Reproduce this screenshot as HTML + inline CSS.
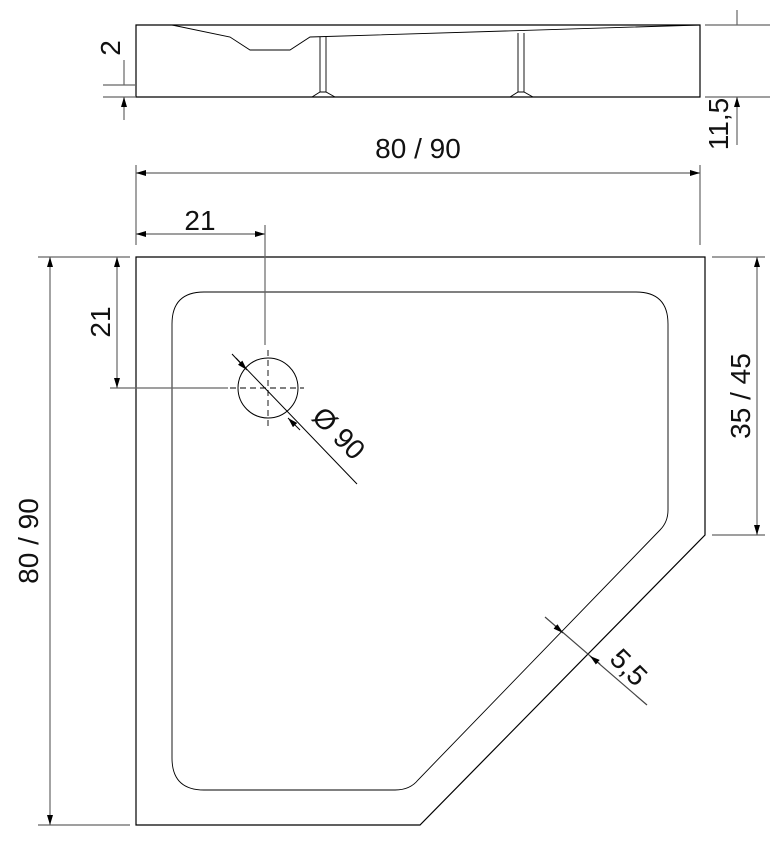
<!DOCTYPE html>
<html><head><style>body{margin:0;background:#fff}svg{display:block}text{font-family:"Liberation Sans",sans-serif;fill:#111}</style></head>
<body>
<svg width="780" height="848" viewBox="0 0 780 848">
<defs><marker id="a" markerWidth="10" markerHeight="6" refX="10" refY="3" orient="auto-start-reverse" markerUnits="userSpaceOnUse"><path d="M0,0 L10,3 L0,6z" fill="#000"/></marker></defs>
<g fill="none" stroke="#000" stroke-width="1.2">
<!-- side view -->
<path d="M136,25 H700 V97 H136 Z"/>
<path d="M172,25 L230,37 L250,50 L290,50 L310,37 L700,25" stroke-width="0.9"/>
<path d="M320,37 V92 M326,37 V92 M518,33 V92 M524,33 V92" stroke-width="0.9"/>
<path d="M312,97 L320,92 H326 L335,97 M510,97 L518,92 H524 L533,97" stroke-width="0.9"/>
<path d="M103,97 H136 M103,85 H136" stroke="#666"/>
<path d="M124,60 V85 M124,120 V97" stroke="#666" marker-end="url(#a)"/>
<path d="M705,25 H770 M705,97 H770" stroke="#666"/>
<path d="M737,10 V25 M737,145 V97" stroke="#666" marker-end="url(#a)"/>
<!-- width dim -->
<path d="M136,165 V245 M700,165 V245" stroke="#666"/>
<path d="M136,173 H700" stroke="#666" marker-start="url(#a)" marker-end="url(#a)"/>
<!-- plan -->
<path d="M136,257 H705 V535 L420,825 H136 Z"/>
<path d="M204,292 H636 Q668,292 668,324 V510 Q668,522 660,530 L418,780 Q410,790 395,790 H204 Q172,790 172,758 V324 Q172,292 204,292 Z" stroke-width="0.9"/>
<circle cx="268" cy="388" r="30" stroke-width="1"/>
<path d="M230,388 H304 M268,350 V426" stroke-dasharray="6,4" stroke-width="0.9"/>
<path d="M236,358 L357,484" stroke-width="1"/>
<path d="M232,354 L247,370" marker-end="url(#a)" stroke-width="1"/>
<path d="M300,430 L288,418" marker-end="url(#a)" stroke-width="1"/>
<!-- 21 dims -->
<path d="M265,225 V345 M110,388 H228" stroke="#666"/>
<path d="M136,234 H265" stroke="#666" marker-start="url(#a)" marker-end="url(#a)"/>
<path d="M117,257 V388" stroke="#666" marker-start="url(#a)" marker-end="url(#a)"/>
<!-- left 80/90 -->
<path d="M38,257 H130 M38,825 H130" stroke="#666"/>
<path d="M50,257 V825" stroke="#666" marker-start="url(#a)" marker-end="url(#a)"/>
<!-- right 35/45 -->
<path d="M712,257 H765 M712,535 H765" stroke="#666"/>
<path d="M757,257 V535" stroke="#666" marker-start="url(#a)" marker-end="url(#a)"/>
<!-- 5,5 -->
<path d="M545,617 L647,705" stroke="#444"/>
<path d="M555,626 L563,633" marker-end="url(#a)" stroke="#444"/>
<path d="M600,664 L590,656" marker-end="url(#a)" stroke="#444"/>
</g>
<g font-size="28">
<text x="418" y="158" text-anchor="middle">80 / 90</text>
<text x="200" y="230" text-anchor="middle">21</text>
<text transform="translate(110,322) rotate(-90)" text-anchor="middle">21</text>
<text transform="translate(38,541) rotate(-90)" text-anchor="middle">80 / 90</text>
<text transform="translate(750,396) rotate(-90)" text-anchor="middle">35 / 45</text>
<text transform="translate(120,48) rotate(-90)" text-anchor="middle">2</text>
<text transform="translate(728,124) rotate(-90)" text-anchor="middle">11,5</text>
<text transform="translate(332,440) rotate(45)" text-anchor="middle">Ø 90</text>
<text transform="translate(622,674) rotate(45)" text-anchor="middle">5,5</text>
</g>
</svg>
</body></html>
